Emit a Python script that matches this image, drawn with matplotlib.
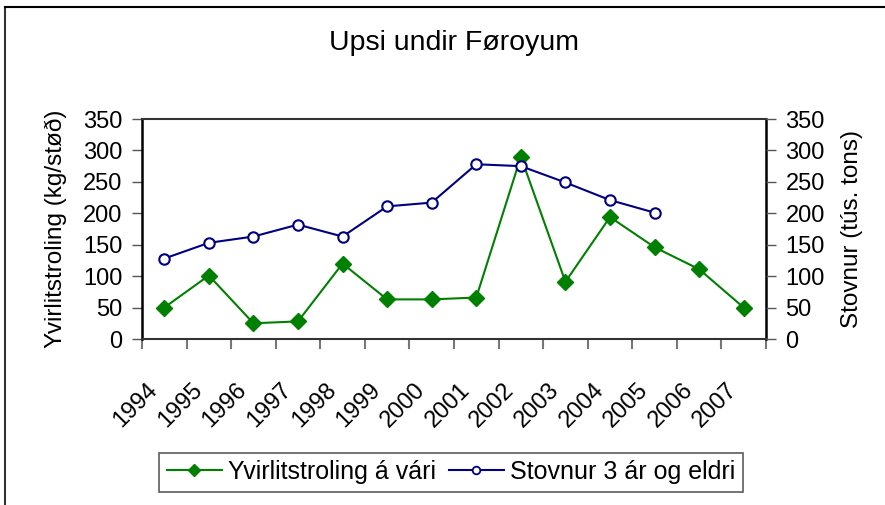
import matplotlib
matplotlib.use("Agg")
import matplotlib.pyplot as plt
from matplotlib.lines import Line2D
import matplotlib.transforms as mtransforms
import numpy as np

plt.rcParams['font.family'] = ['Liberation Sans', 'DejaVu Sans']

years = ['1994', '1995', '1996', '1997', '1998', '1999', '2000',
         '2001', '2002', '2003', '2004', '2005', '2006', '2007']
survey = [50, 101, 25, 28, 120, 63, 63, 66, 290, 91, 194, 146, 111, 50]
stock = [128, 153, 163, 182, 163, 211, 217, 278, 275, 249, 221, 201, None, None]

W, H = 885, 505
fig = plt.figure(figsize=(W / 100, H / 100), dpi=100)

L, R, T, B = 142, 766, 119, 339
ax = fig.add_axes([L / W, 1 - B / H, (R - L) / W, (B - T) / H])

x = np.arange(len(years))
green = '#008000'
navy = '#000080'

ax.plot(x, survey, color=green, lw=1.5, marker='D', ms=8.5, mfc=green, mec=green,
        zorder=3)
sx = [xi for xi, v in zip(x, stock) if v is not None]
sv = [v for v in stock if v is not None]
ax.plot(sx, sv, color=navy, lw=1.5, marker='o', ms=7.5, mfc='white', mec=navy, mew=1.5,
        zorder=4)

ax.set_xlim(-0.5, len(years) - 0.5)
ax.set_ylim(0, 350)
ax.set_yticks(np.arange(0, 351, 50))
ax.tick_params(axis='y', direction='out', length=7, width=1, colors='#555555',
               labelcolor='black', labelsize=17, pad=7)
ax.set_xticks(np.arange(-0.5, len(years), 1.0))
ax.set_xticklabels([])
ax.tick_params(axis='x', which='major', direction='out', length=7, width=1.5, colors='#777777')
ax.set_xticks(x, minor=True)
ax.set_xticklabels(years, minor=True, rotation=45, ha='right', va='center',
                   rotation_mode='anchor', fontsize=17)
ax.tick_params(axis='x', which='minor', length=0, pad=34)
shift = mtransforms.ScaledTranslation(-7 / 72, 0, fig.dpi_scale_trans)
for lab in ax.get_xticklabels(minor=True):
    lab.set_transform(lab.get_transform() + shift)

for s in ['left', 'right']:
    ax.spines[s].set_linewidth(1.8)
    ax.spines[s].set_color('black')
ax.spines['top'].set_linewidth(1.5)
ax.spines['top'].set_color('#333333')
ax.spines['bottom'].set_linewidth(1.5)
ax.spines['bottom'].set_color('#333333')

ax.set_ylabel('Yvirlitstroling (kg/støð)', fontsize=17.5, labelpad=12)

ax2 = ax.twinx()
ax2.set_ylim(0, 350)
ax2.set_yticks(np.arange(0, 351, 50))
ax2.tick_params(axis='y', direction='out', length=7, width=1, colors='#555555',
                labelcolor='black', labelsize=17, pad=7)
ax2.set_ylabel('Stovnur (tús. tons)', fontsize=17.5, labelpad=12)
for s in ax2.spines.values():
    s.set_visible(False)

fig.text(454 / W, 1 - 43 / H, 'Upsi undir Føroyum', ha='center', va='center', fontsize=20.5)

h1 = Line2D([], [], color=green, lw=1.5, marker='D', ms=6.5, mfc=green, mec=green)
h2 = Line2D([], [], color=navy, lw=1.5, marker='o', ms=5.5, mfc='white', mec=navy, mew=1.3)
leg = fig.legend(handles=[h1, h2], labels=['Yvirlitstroling á vári', 'Stovnur 3 ár og eldri'],
                 loc='center', bbox_to_anchor=(451 / W, 1 - 472 / H),
                 ncol=2, fontsize=18, frameon=True, fancybox=False, edgecolor='#333333',
                 handlelength=2.2, handletextpad=0.25, columnspacing=0.5, borderpad=0.3,
                 borderaxespad=0)
leg.get_frame().set_linewidth(1.2)

# outer chart-area frame (top and left edges visible)
fig.add_artist(Line2D([5 / W, 5 / W], [0, 1 - 7 / H], color='#333333', lw=1.5,
                      transform=fig.transFigure))
fig.add_artist(Line2D([5 / W, 1], [1 - 7 / H, 1 - 7 / H], color='black', lw=1.5,
                      transform=fig.transFigure))

fig.savefig('out.png', dpi=100)
